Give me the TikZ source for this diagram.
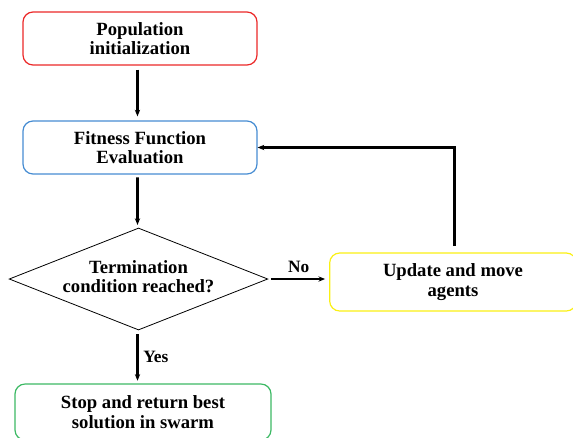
\documentclass[tikz,border=0pt]{standalone}
\usepackage{fontspec}
\setmainfont{Liberation Serif}
\usetikzlibrary{shapes.geometric,arrows.meta}
\definecolor{cred}{RGB}{235,40,40}
\definecolor{cblue}{RGB}{70,140,210}
\definecolor{cgreen}{RGB}{60,185,100}
\definecolor{cyellow}{RGB}{250,240,20}
\tikzset{
  flowbox/.style={draw, rounded corners=7.5pt, line width=0.9pt, minimum width=175.5pt, minimum height=39.75pt, align=center, font=\fontsize{14}{14.5}\selectfont\bfseries},
  decision/.style={draw, diamond, aspect=2.5, inner sep=0pt, minimum width=194pt, minimum height=76.5pt, line width=0.6pt, align=center, font=\fontsize{14}{14.5}\selectfont\bfseries},
  arr/.style={-{Stealth[length=5pt,width=4pt]}, line width=2.1pt},
  lbl/.style={font=\fontsize{13}{14}\selectfont\bfseries}
}
\begin{document}
\begin{tikzpicture}[x=0.75pt,y=-0.75pt]
\useasboundingbox (0,0) rectangle (573,437);
\node[flowbox, draw=cred] (pop) at (140,38.5) {Population\\initialization};
\node[flowbox, draw=cblue] (fit) at (140,147.5) {Fitness Function\\Evaluation};
\node[decision] (dec) at (138.5,279) {\raisebox{4pt}{\begin{tabular}{@{}c@{}}Termination\\condition reached?\end{tabular}}};
\node[flowbox, draw=cgreen, minimum width=192pt, minimum height=42pt] (stop) at (143,412) {Stop and return best\\solution in swarm};
\node[flowbox, draw=cyellow, minimum width=185pt, minimum height=43.5pt] (upd) at (453,282) {Update and move\\agents};
\coordinate (fb) at (454.5,246);
\draw[arr, shorten <=3pt, shorten >=3pt] ([xshift=-1.9pt]pop.south) -- ([xshift=-1.9pt]fit.north);
\draw[arr, shorten <=2pt, shorten >=2pt] ([xshift=-1.9pt]fit.south) -- ([xshift=-0.75pt]dec.north);
\draw[arr, shorten <=3pt, shorten >=2pt] ([xshift=-0.75pt]dec.south) -- node[lbl, right] {Yes} ([xshift=-0.75pt]stop.north -| dec.south);
\draw[arr, shorten <=2pt, shorten >=3pt] (dec.east) -- node[lbl, above] {No} (upd.west |- dec.east);
\draw[arr] (fb) |- (fit.east);
\end{tikzpicture}
\end{document}
